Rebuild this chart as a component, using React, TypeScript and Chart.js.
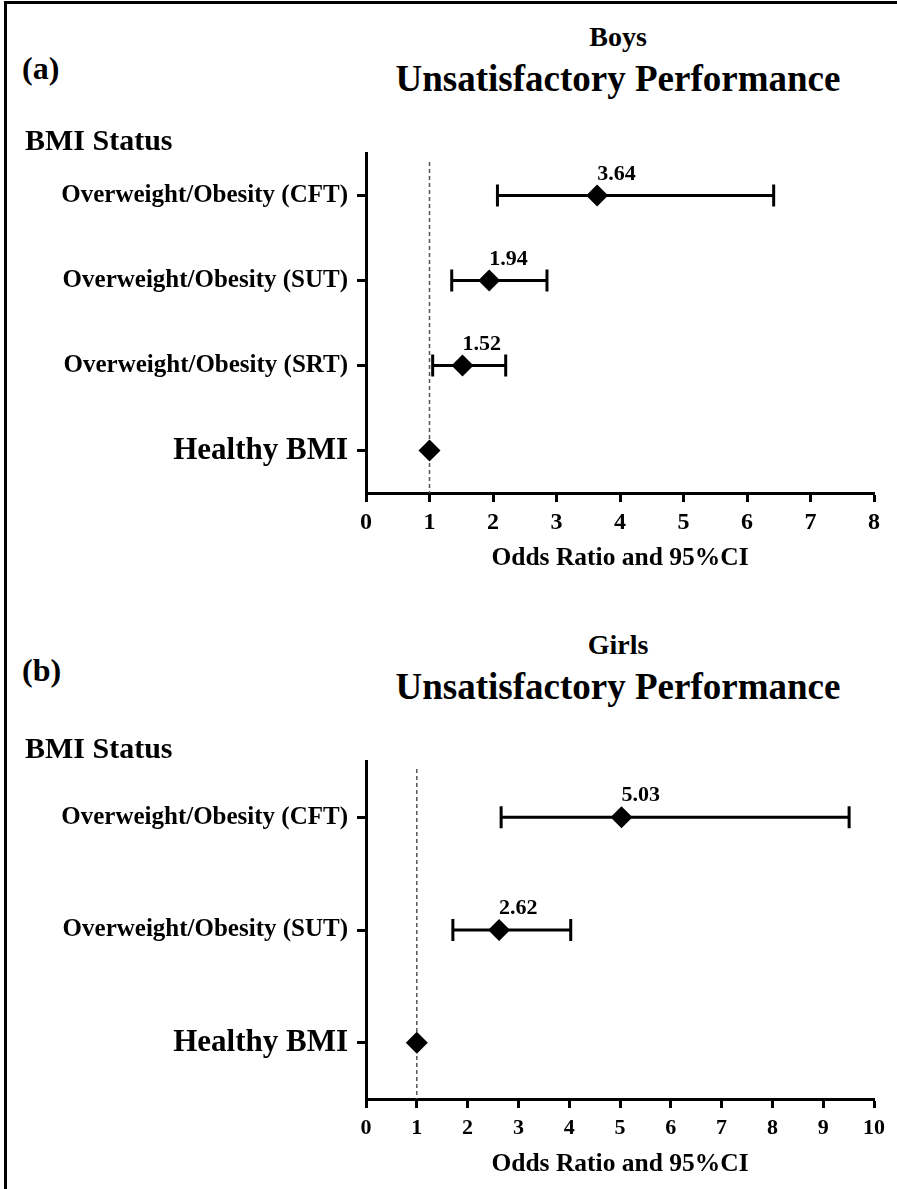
import React, { useEffect, useRef } from 'react';
import { Chart, registerables } from 'chart.js';

Chart.register(...registerables);

const FONT = "'Liberation Serif', 'Times New Roman', Times, serif";

// ---------- Data ----------
const boysCategories = [
  'Overweight/Obesity (CFT)',
  'Overweight/Obesity (SUT)',
  'Overweight/Obesity (SRT)',
  'Healthy BMI',
];
const boysOddsRatio = [3.64, 1.94, 1.52, 1];
const boysLowerCI: (number | null)[] = [2.07, 1.35, 1.05, null];
const boysUpperCI: (number | null)[] = [6.42, 2.85, 2.2, null];
const boysXMax = 8;

const girlsCategories = [
  'Overweight/Obesity (CFT)',
  'Overweight/Obesity (SUT)',
  'Healthy BMI',
];
const girlsOddsRatio = [5.03, 2.62, 1];
const girlsLowerCI: (number | null)[] = [2.66, 1.71, null];
const girlsUpperCI: (number | null)[] = [9.51, 4.03, null];
const girlsXMax = 10;

const referenceValue = 1;
const xAxisTitle = 'Odds Ratio and 95%CI';

type PanelCfg = {
  categories: string[];
  or: number[];
  lower: (number | null)[];
  upper: (number | null)[];
  xMax: number;
  height: number;
  padTop: number;
  xAxisHeight: number;
  xTickSize: number;
  xTickPadding: number;
  refGap: number;
};

function makeChart(canvas: HTMLCanvasElement, p: PanelCfg) {
  const cap = 11;
  const forestPlugin = {
    id: 'forest',
    beforeDatasetsDraw(chart: any) {
      const { ctx, chartArea, scales } = chart;
      const xs = scales.x;
      const ys = scales.y;
      ctx.save();
      const rx = xs.getPixelForValue(referenceValue);
      ctx.strokeStyle = '#555';
      ctx.lineWidth = 1.5;
      ctx.setLineDash([4, 3]);
      ctx.beginPath();
      ctx.moveTo(rx, chartArea.top + p.refGap);
      ctx.lineTo(rx, chartArea.bottom);
      ctx.stroke();
      ctx.setLineDash([]);
      ctx.strokeStyle = '#000';
      ctx.lineWidth = 3;
      p.categories.forEach((_c, i) => {
        const lo = p.lower[i];
        const hi = p.upper[i];
        if (lo == null || hi == null) return;
        const yy = ys.getPixelForValue(i);
        const x1 = xs.getPixelForValue(lo);
        const x2 = xs.getPixelForValue(hi);
        ctx.beginPath();
        ctx.moveTo(x1, yy);
        ctx.lineTo(x2, yy);
        ctx.moveTo(x1, yy - cap);
        ctx.lineTo(x1, yy + cap);
        ctx.moveTo(x2, yy - cap);
        ctx.lineTo(x2, yy + cap);
        ctx.stroke();
      });
      ctx.restore();
    },
    afterDatasetsDraw(chart: any) {
      const { ctx, scales } = chart;
      const xs = scales.x;
      const ys = scales.y;
      ctx.save();
      ctx.fillStyle = '#000';
      ctx.font = `bold 22px ${FONT}`;
      ctx.textAlign = 'left';
      ctx.textBaseline = 'alphabetic';
      p.categories.forEach((_c, i) => {
        if (p.lower[i] == null) return;
        const px = xs.getPixelForValue(p.or[i]);
        const py = ys.getPixelForValue(i);
        ctx.fillText(p.or[i].toFixed(2), px, py - 16);
      });
      ctx.restore();
    },
  };

  return new Chart(canvas, {
    type: 'scatter',
    data: {
      datasets: [
        {
          data: p.categories.map((c, i) => ({ x: p.or[i], y: c })) as any,
          pointStyle: 'rectRot',
          pointRadius: 11,
          pointHoverRadius: 11,
          pointBackgroundColor: '#000',
          pointBorderColor: '#000',
          pointBorderWidth: 0,
        },
      ],
    },
    options: {
      animation: false,
      responsive: false,
      events: [],
      layout: { padding: { top: p.padTop, right: 23, bottom: 0, left: 0 } },
      plugins: {
        legend: { display: false },
        tooltip: { enabled: false },
      },
      scales: {
        x: {
          type: 'linear',
          min: 0,
          max: p.xMax,
          afterFit: (s: any) => {
            s.height = p.xAxisHeight;
            s.paddingLeft = 0;
            s.paddingRight = 0;
          },
          border: { display: true, color: '#000', width: 3 },
          grid: {
            display: true,
            drawOnChartArea: false,
            drawTicks: true,
            tickLength: 9,
            tickWidth: 3,
            tickColor: '#000',
          },
          ticks: {
            stepSize: 1,
            color: '#000',
            padding: p.xTickPadding,
            maxRotation: 0,
            font: { family: FONT, weight: 'bold', size: p.xTickSize },
          },
          title: {
            display: true,
            text: xAxisTitle,
            color: '#000',
            padding: 0,
            font: { family: FONT, weight: 'bold', size: 25.5 },
          },
        },
        y: {
          type: 'category',
          labels: p.categories,
          offset: true,
          afterFit: (s: any) => {
            s.width = 366;
            s.paddingTop = 0;
            s.paddingBottom = 0;
          },
          border: { display: true, color: '#000', width: 3 },
          grid: {
            display: true,
            drawOnChartArea: false,
            drawTicks: true,
            tickLength: 9,
            tickWidth: 3,
            tickColor: '#000',
          },
          ticks: {
            color: '#000',
            padding: 9,
            font: (ctx: any) => ({
              family: FONT,
              weight: 'bold',
              size: ctx.tick && ctx.tick.label === 'Healthy BMI' ? 31 : 25,
            }),
          },
        },
      },
    } as any,
    plugins: [forestPlugin],
  });
}

function PanelCanvas({ cfg, top }: { cfg: PanelCfg; top: number }) {
  const ref = useRef<HTMLCanvasElement | null>(null);
  useEffect(() => {
    if (!ref.current) return;
    const ch = makeChart(ref.current, cfg);
    return () => ch.destroy();
  }, []);
  return (
    <canvas
      ref={ref}
      width={897}
      height={cfg.height}
      style={{ position: 'absolute', left: 0, top, width: 897, height: cfg.height, display: 'block' }}
    />
  );
}

function Txt({ t, x, y, size, align }: { t: string; x: number; y: number; size: number; align: 'left' | 'center' }) {
  const style: React.CSSProperties = {
    position: 'absolute',
    top: y - size / 2,
    fontFamily: FONT,
    fontWeight: 'bold',
    fontSize: size,
    lineHeight: 1,
    color: '#000',
    whiteSpace: 'nowrap',
  };
  if (align === 'center') {
    style.left = x - 300;
    style.width = 600;
    style.textAlign = 'center';
  } else {
    style.left = x;
  }
  return <div style={style}>{t}</div>;
}

export default function App() {
  const boys: PanelCfg = {
    categories: boysCategories,
    or: boysOddsRatio,
    lower: boysLowerCI,
    upper: boysUpperCI,
    xMax: boysXMax,
    height: 434,
    padTop: 13,
    xAxisHeight: 81,
    xTickSize: 24,
    xTickPadding: 6,
    refGap: 9,
  };
  const girls: PanelCfg = {
    categories: girlsCategories,
    or: girlsOddsRatio,
    lower: girlsLowerCI,
    upper: girlsUpperCI,
    xMax: girlsXMax,
    height: 435,
    padTop: 16,
    xAxisHeight: 81,
    xTickSize: 22,
    xTickPadding: 7,
    refGap: 8,
  };
  return (
    <div style={{ position: 'absolute', left: 0, top: 0, width: 897, height: 1189, background: '#fff', overflow: 'hidden' }}>
      <PanelCanvas cfg={boys} top={140} />
      <PanelCanvas cfg={girls} top={745} />
      <div style={{ position: 'absolute', left: 4, top: 1, width: 893, height: 3, background: '#000' }} />
      <div style={{ position: 'absolute', left: 4, top: 1, width: 2.5, height: 1188, background: '#000' }} />
      <Txt t="Boys" x={618} y={37} size={28} align="center" />
      <Txt t="(a)" x={22} y={68} size={32} align="left" />
      <Txt t="Unsatisfactory Performance" x={618} y={78} size={37} align="center" />
      <Txt t="BMI Status" x={25} y={140} size={30} align="left" />
      <Txt t="Girls" x={618} y={645} size={28} align="center" />
      <Txt t="(b)" x={22} y={670} size={32} align="left" />
      <Txt t="Unsatisfactory Performance" x={618} y={686} size={37} align="center" />
      <Txt t="BMI Status" x={25} y={748} size={30} align="left" />
    </div>
  );
}
